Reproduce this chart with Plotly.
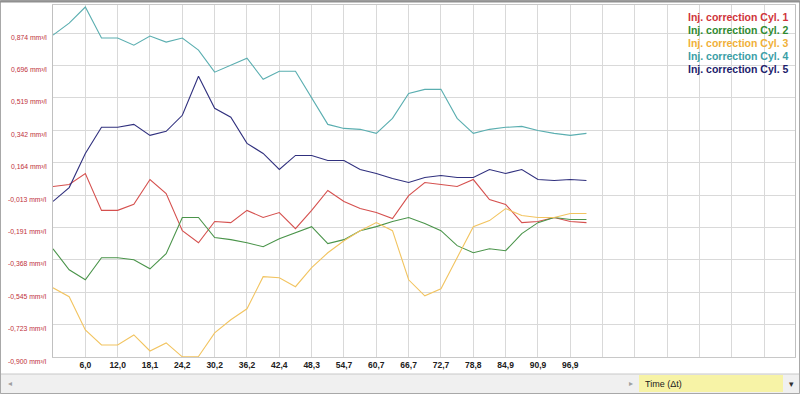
import plotly.graph_objects as go

# sample index (two samples per grid interval)
samples = list(range(34))

# x tick labels (time, s) at every second sample; no labels beyond data
tick_samples = list(range(0, 46, 2))
time_labels = ["", "6,0", "12,0", "18,1", "24,2", "30,2", "36,2", "42,4", "48,3", "54,7",
               "60,7", "66,7", "72,7", "78,8", "84,9", "90,9", "96,9",
               "", "", "", "", "", ""]

# y ticks
y_ticks = [-0.900, -0.723, -0.545, -0.368, -0.191, -0.013, 0.164, 0.342, 0.519, 0.696, 0.874]
y_tick_labels = ["-0,900 mm³/l", "-0,723 mm³/l", "-0,545 mm³/l", "-0,368 mm³/l", "-0,191 mm³/l",
                 "-0,013 mm³/l", "0,164 mm³/l", "0,342 mm³/l", "0,519 mm³/l", "0,696 mm³/l",
                 "0,874 mm³/l"]

cyl1 = [0.034, 0.045, 0.105, -0.097, -0.097, -0.064, 0.072, -0.005, -0.208, -0.274,
        -0.158, -0.164, -0.097, -0.136, -0.109, -0.197, -0.097, 0.012, -0.048, -0.087,
        -0.109, -0.142, -0.016, 0.056, 0.045, 0.034, 0.072, -0.038, -0.064, -0.164,
        -0.158, -0.136, -0.158, -0.164]
cyl2 = [-0.307, -0.422, -0.477, -0.356, -0.356, -0.367, -0.417, -0.334, -0.136, -0.136,
        -0.246, -0.257, -0.274, -0.296, -0.252, -0.219, -0.186, -0.279, -0.257, -0.208,
        -0.186, -0.158, -0.136, -0.169, -0.208, -0.290, -0.329, -0.307, -0.318, -0.224,
        -0.164, -0.136, -0.147, -0.147]
cyl3 = [-0.521, -0.570, -0.752, -0.834, -0.834, -0.779, -0.867, -0.823, -0.899, -0.897,
        -0.768, -0.696, -0.636, -0.460, -0.466, -0.515, -0.411, -0.329, -0.263, -0.208,
        -0.164, -0.208, -0.477, -0.565, -0.526, -0.356, -0.186, -0.153, -0.087, -0.125,
        -0.136, -0.136, -0.114, -0.114]
cyl4 = [0.863, 0.929, 1.017, 0.847, 0.847, 0.808, 0.858, 0.825, 0.847, 0.781,
        0.660, 0.698, 0.737, 0.621, 0.665, 0.665, 0.517, 0.374, 0.352, 0.347,
        0.325, 0.407, 0.544, 0.566, 0.566, 0.407, 0.325, 0.347, 0.358, 0.363,
        0.341, 0.325, 0.314, 0.325]
cyl5 = [-0.048, 0.028, 0.215, 0.358, 0.358, 0.374, 0.314, 0.336, 0.424, 0.638,
        0.462, 0.413, 0.270, 0.215, 0.127, 0.204, 0.204, 0.176, 0.176, 0.127,
        0.105, 0.078, 0.056, 0.083, 0.094, 0.083, 0.083, 0.127, 0.105, 0.127,
        0.072, 0.067, 0.072, 0.067]

names = ["Inj. correction Cyl. 1", "Inj. correction Cyl. 2", "Inj. correction Cyl. 3",
         "Inj. correction Cyl. 4", "Inj. correction Cyl. 5"]
series = [cyl1, cyl2, cyl3, cyl4, cyl5]
line_colors = ["#d5504e", "#4a944a", "#f2c460", "#5aaeb0", "#30307e"]
text_colors = ["#d0343a", "#2f8a2f", "#f0b038", "#3a9ea6", "#1c1c6c"]

fig = go.Figure()
for name, vals, col in zip(names, series, line_colors):
    fig.add_trace(go.Scatter(x=samples, y=vals, mode="lines", name=name,
                             line=dict(color=col, width=1.1), showlegend=False))

W, H = 800, 394
ml, mr, mt, mb = 53, 5, 5, 37
pw, ph = W - ml - mr, H - mt - mb
y_range = [-0.900, 1.028]


def px(xp):
    return (xp - ml) / pw


def py(yp):
    return (H - mb - yp) / ph


fig.update_layout(
    width=W, height=H,
    margin=dict(l=ml, r=mr, t=mt, b=mb),
    paper_bgcolor="white", plot_bgcolor="white",
    font=dict(family="Liberation Sans, Arial, sans-serif"),
    xaxis=dict(range=[0, 45.9], tickmode="array", tickvals=tick_samples, ticktext=time_labels,
               showgrid=True, gridcolor="#d9d9d9", gridwidth=1, zeroline=False,
               showline=True, linecolor="#c8c8c8", mirror=True, ticks="",
               tickfont=dict(size=8.5, color="#202020", weight="bold")),
    yaxis=dict(range=y_range, tickmode="array", tickvals=y_ticks, showticklabels=False,
               showgrid=True, gridcolor="#d9d9d9", gridwidth=1, zeroline=False,
               showline=True, linecolor="#c0c0c0", mirror=True, ticks=""),
)

# y tick labels: sit a few pixels below their gridlines, as in the original
for v, t in zip(y_ticks, y_tick_labels):
    fig.add_annotation(text=t, xref="paper", yref="y", x=px(49), y=v, yshift=-4,
                       xanchor="right", yanchor="middle", showarrow=False,
                       font=dict(size=6.8, color="#c0303a"))

legend_rows = [17, 30, 43, 56, 69]
for name, col, yp in zip(names, text_colors, legend_rows):
    fig.add_annotation(text=name, xref="paper", yref="paper", x=px(791), y=py(yp),
                       xanchor="right", yanchor="middle", showarrow=False,
                       font=dict(size=10.5, color=col, weight="bold"))

# bottom control bar
fig.add_shape(type="rect", xref="paper", yref="paper", x0=px(0.5), x1=px(799.5),
              y0=py(393.5), y1=py(374), fillcolor="#f0f0f0", line=dict(color="#c8c8c8", width=1),
              layer="above")
fig.add_shape(type="rect", xref="paper", yref="paper", x0=px(639), x1=px(783),
              y0=py(392), y1=py(375), fillcolor="#f7f3a6", line=dict(width=0), layer="above")
fig.add_annotation(text="Time (Δt)", xref="paper", yref="paper", x=px(643), y=py(383.5),
                   xanchor="left", yanchor="middle", showarrow=False,
                   font=dict(size=9, color="#202020"))
fig.add_annotation(text="▸", xref="paper", yref="paper", x=px(631), y=py(383.5),
                   xanchor="center", yanchor="middle", showarrow=False,
                   font=dict(size=8, color="#a0a0a0"))
fig.add_annotation(text="◂", xref="paper", yref="paper", x=px(10), y=py(383.5),
                   xanchor="center", yanchor="middle", showarrow=False,
                   font=dict(size=8, color="#a0a0a0"))
fig.add_annotation(text="▾", xref="paper", yref="paper", x=px(791), y=py(383.5),
                   xanchor="center", yanchor="middle", showarrow=False,
                   font=dict(size=9, color="#303030"))

# outer frame
fig.add_shape(type="rect", xref="paper", yref="paper", x0=px(0.5), x1=px(799.5),
              y0=py(393.5), y1=py(0.5), fillcolor="rgba(0,0,0,0)",
              line=dict(color="#a8a8a8", width=1), layer="above")
fig.add_shape(type="line", xref="paper", yref="paper", x0=px(0), x1=px(800),
              y0=py(1.5), y1=py(1.5), line=dict(color="#909090", width=2), layer="above")

fig.write_html("out.html", config={"displayModeBar": False},
               post_script="document.body.style.margin='0';document.body.style.overflow='hidden';")
